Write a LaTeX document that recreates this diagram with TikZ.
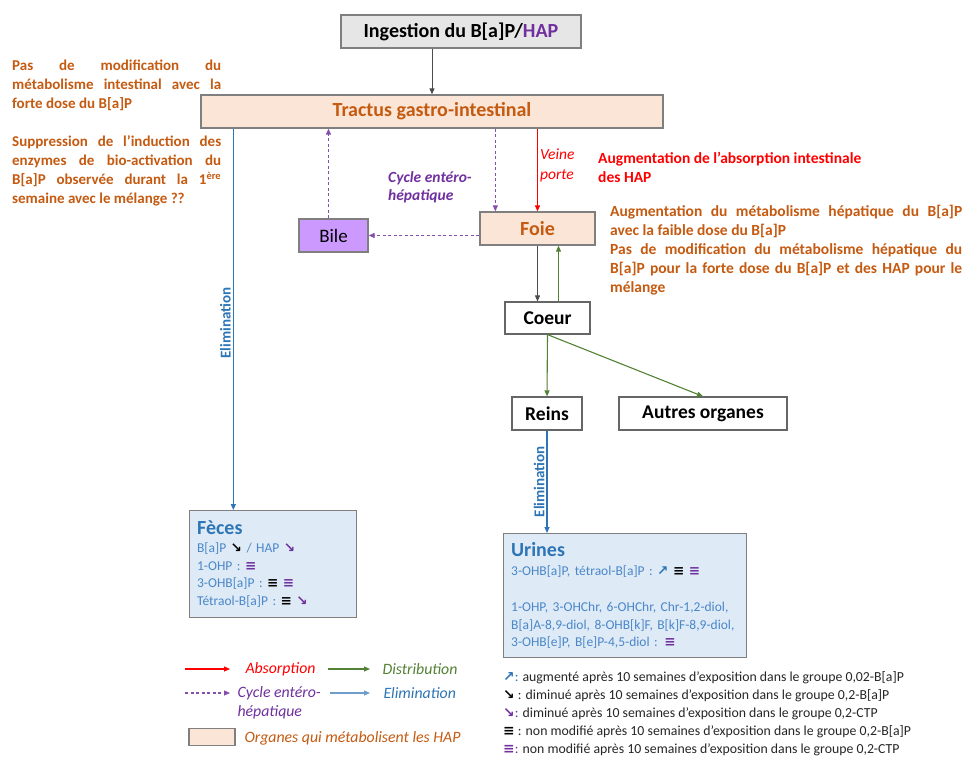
\documentclass[tikz,border=0pt]{standalone}
\usepackage{fontspec}
\setmainfont{Carlito}
\newfontfamily\dejavu{DejaVu Sans}
\usetikzlibrary{arrows.meta, positioning, calc}
\usepackage{xcolor}
\setlength{\parindent}{0pt}
\hyphenpenalty=10000
\exhyphenpenalty=10000
\definecolor{OrgOrange}{HTML}{C55A11}
\definecolor{OrgFill}{HTML}{FBE5D6}
\definecolor{AbsRed}{HTML}{FF0000}
\definecolor{CycPurple}{HTML}{7030A0}
\definecolor{DisGreen}{HTML}{548235}
\definecolor{ElimBlue}{HTML}{2E75B6}
\definecolor{ItemBlue}{HTML}{4A86C8}
\definecolor{ResFill}{HTML}{DEEBF7}
\definecolor{BileFill}{HTML}{CC99FF}
\definecolor{GrayFill}{HTML}{E7E6E6}
\definecolor{Frame}{HTML}{7F7F7F}
\newcommand{\upArr}[1]{{\dejavu\bfseries\color{#1}↗}}
\newcommand{\dnArr}[1]{{\dejavu\bfseries\color{#1}↘}}
\newcommand{\eqMark}[1]{{\dejavu\bfseries\color{#1}≡}}
\tikzset{
  obox/.style={draw=Frame, line width=1.3pt, fill=OrgFill, text=OrgOrange,
    minimum height=33pt, font=\fontsize{20}{22}\selectfont\bfseries},
  wbox/.style={draw=black!60, line width=1.2pt, fill=white,
    minimum height=33pt, font=\fontsize{19.5}{22}\selectfont\bfseries},
  gbox/.style={draw=Frame, line width=1.3pt, fill=GrayFill,
    minimum height=33pt, font=\fontsize{20}{22}\selectfont\bfseries},
  pbox/.style={draw=Frame, line width=1.3pt, fill=BileFill,
    minimum height=33pt, font=\fontsize{19}{21}\selectfont},
  lbox/.style={draw=Frame, line width=1.3pt, fill=ResFill, anchor=north west,
    align=left, text=ItemBlue, inner xsep=7pt, inner ysep=6pt,
    font=\fontsize{13.5}{17.7}\selectfont},
  note/.style={anchor=north west, inner sep=0pt, text=OrgOrange,
    font=\fontsize{15.5}{18.9}\selectfont\bfseries},
  legtxt/.style={anchor=west, font=\fontsize{15.8}{19}\selectfont\itshape},
  elimlbl/.style={rotate=90, above, text=ElimBlue, inner sep=2pt,
    font=\fontsize{15}{16}\selectfont\bfseries},
  flowk/.style={-{Triangle[length=6pt, width=5pt]}, line width=0.9pt, draw=black!70},
  flowr/.style={-{Triangle[length=6pt, width=5pt]}, line width=1.1pt, draw=AbsRed},
  flowg/.style={-{Triangle[length=6pt, width=5pt]}, line width=1.1pt, draw=DisGreen},
  flowb/.style={-{Triangle[length=6pt, width=5pt]}, line width=1.1pt, draw=ElimBlue},
  flowl/.style={-{Triangle[length=6pt, width=5pt]}, line width=1.1pt, draw=ElimBlue!70},
  flowp/.style={-{Triangle[length=6pt, width=5pt]}, line width=1.1pt, draw=CycPurple!85,
    dash pattern=on 3pt off 2.5pt},
}

\begin{document}
\begin{tikzpicture}[x=1pt, y=-1pt]
  \fill[white] (0,0) rectangle (963,757);
  \useasboundingbox (0,0) rectangle (963,757);

  % main chain
  \node[gbox, minimum width=240pt] (ing) at (461,31.5) {Ingestion du B[a]P/{\color{CycPurple}HAP}};
  \node[obox, minimum width=462pt] (tract) at (432,111.5) {Tractus gastro-intestinal};
  \node[pbox, minimum width=69pt] (bile) at (333.5,235.5) {Bile};
  \node[obox, minimum width=115pt] (foie) at (537.5,228.5) {Foie};
  \node[wbox, minimum width=85pt, minimum height=32pt] (coeur) at (547.5,318) {Coeur};
  \node[wbox, minimum width=70pt] (reins) at (547,413.5) {Reins};
  \node[wbox, minimum width=168pt] (autres) at (703,413.5) {Autres organes};

  % results
  \node[lbox, minimum width=167pt, minimum height=107pt, text width=152pt] (feces) at (189,510)
    {{\fontsize{20}{17.7}\selectfont\bfseries\color{ElimBlue}Fèces}\\
     B[a]P \dnArr{black} / HAP \dnArr{CycPurple}\\
     1-OHP : \eqMark{CycPurple}\\
     3-OHB[a]P : \eqMark{black} \eqMark{CycPurple}\\
     Tétraol-B[a]P : \eqMark{black} \dnArr{CycPurple}};
  \node[lbox, inner ysep=8.5pt, minimum width=243pt, minimum height=122pt, text width=228pt] (urines) at (503,533)
    {{\fontsize{20}{17.7}\selectfont\bfseries\color{ElimBlue}Urines}\\[2pt]
     3-OHB[a]P, tétraol-B[a]P : \upArr{ElimBlue} \eqMark{black} \eqMark{CycPurple}\\[18pt]
     1-OHP, 3-OHChr, 6-OHChr, Chr-1,2-diol,\\
     B[a]A-8,9-diol, 8-OHB[k]F, B[k]F-8,9-diol,\\
     3-OHB[e]P, B[e]P-4,5-diol : \eqMark{CycPurple}};

  % comments
  \node[note, text width=209pt, align=justify, font=\fontsize{15}{18.9}\selectfont\bfseries] (intnote) at (12,60)
    {Pas de modification du métabolisme intestinal avec la forte dose du B[a]P\par\vspace{19pt}
     Suppression de l’induction des enzymes de bio-activation du B[a]P observée durant la 1\textsuperscript{ère} semaine avec le mélange ??};
  \node[note, text=AbsRed, align=left] (absnote) at (598,152)
    {Augmentation de l’absorption intestinale\\des HAP};
  \node[note, text width=352pt, align=justify] (foienote) at (610,205)
    {Augmentation du métabolisme hépatique du B[a]P avec la faible dose du B[a]P\par
     Pas de modification du métabolisme hépatique du B[a]P pour la forte dose du B[a]P et des HAP pour le mélange};
  \node[note, text=CycPurple, align=left, font=\fontsize{15.5}{18.9}\selectfont\bfseries\itshape] (cycnote) at (388,171)
    {Cycle entéro-\\hépatique};
  \node[note, text=AbsRed, align=left, font=\fontsize{15.5}{19.5}\selectfont\itshape] (veine) at (540,149)
    {Veine\\porte};

  % connectors
  \draw[flowk] (ing.south -| tract.north) -- (tract.north);
  \draw[flowb] ([xshift=33pt]tract.south west) -- node[elimlbl, pos=0.51]{Elimination}
    ([xshift=33pt]tract.south west |- feces.north);
  \draw[flowp] ([xshift=-5pt]bile.north) -- ([xshift=-5pt]bile.north |- tract.south);
  \draw[flowp] ([xshift=16pt]foie.north west |- tract.south) -- ([xshift=16pt]foie.north west);
  \draw[flowr] (foie.north |- tract.south) -- (foie.north);
  \draw[flowp] (bile.east -| foie.west) -- (bile.east);
  \draw[flowk] (foie.south) -- (foie.south |- coeur.north);
  \draw[flowg] ([xshift=11pt]coeur.north) -- ([xshift=11pt]coeur.north |- foie.south);
  \draw[flowg] (coeur.south) -- (reins.north);
  \draw[flowg] (coeur.south) -- (autres.north);
  \draw[flowb] (reins.south) -- node[elimlbl, pos=0.5]{Elimination} (reins.south |- urines.north);

  % legend
  \coordinate (la1) at (185,669); \coordinate (la2) at (230,669);
  \coordinate (lg1) at (328,669); \coordinate (lg2) at (370,669);
  \coordinate (lp1) at (185,693); \coordinate (lp2) at (230,693);
  \coordinate (lb1) at (330,693); \coordinate (lb2) at (370,693);
  \draw[flowr] (la1) -- (la2);
  \draw[flowg] (lg1) -- (lg2);
  \draw[flowp] (lp1) -- (lp2);
  \draw[flowl] (lb1) -- (lb2);
  \node[legtxt, text=AbsRed] (labs) at (242,669) {Absorption};
  \node[legtxt, text=DisGreen] (ldis) at (379,669) {Distribution};
  \node[legtxt, text=CycPurple, anchor=north west, align=left] (lcyc) at (234,683) {Cycle entéro-\\hépatique};
  \node[legtxt, text=ElimBlue] (lelim) at (380,693) {Elimination};
  \node[draw=Frame, line width=1.3pt, fill=OrgFill, minimum width=46pt, minimum height=17pt] (lorg) at (212,737) {};
  \node[legtxt, text=OrgOrange] (lorgtxt) at (241,738) {Organes qui métabolisent les HAP};

  \node[anchor=north west, align=left, text=black!85, inner sep=0pt,
    font=\fontsize{13.8}{18}\selectfont] (symleg) at (503,671)
    {{\upArr{ElimBlue}\color{ElimBlue} :} augmenté après 10 semaines d’exposition dans le groupe 0,02-B[a]P\\
     {\dnArr{black} :} diminué après 10 semaines d’exposition dans le groupe 0,2-B[a]P\\
     {\dnArr{CycPurple}\color{CycPurple} :} diminué après 10 semaines d’exposition dans le groupe 0,2-CTP\\
     {\eqMark{black} :} non modifié après 10 semaines d’exposition dans le groupe 0,2-B[a]P\\
     {\eqMark{CycPurple}\color{CycPurple} :} non modifié après 10 semaines d’exposition dans le groupe 0,2-CTP};
\end{tikzpicture}
\end{document}
